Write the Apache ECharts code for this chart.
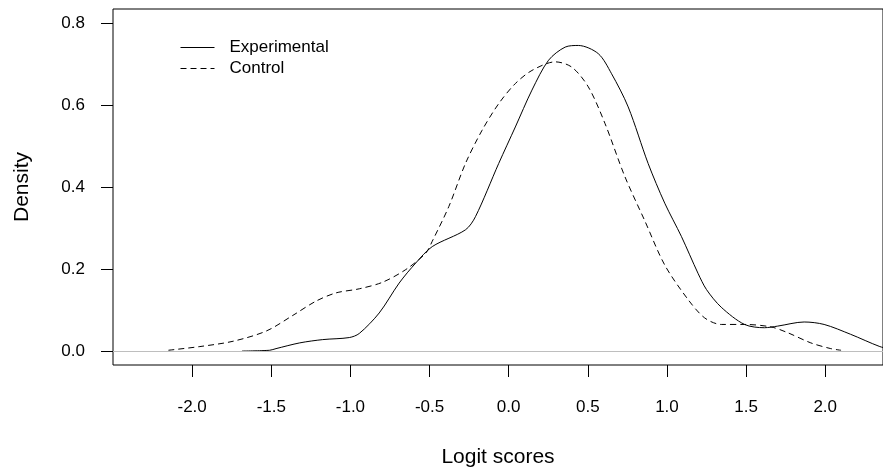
<!DOCTYPE html>
<html>
<head>
<meta charset="utf-8">
<script src="https://cdn.jsdelivr.net/npm/echarts@6/dist/echarts.min.js"></script>
<style>
  html, body { margin: 0; padding: 0; background: #fff; }
  #chart { width: 883px; height: 473px; }
</style>
</head>
<body>
<div id="chart"></div>
<script>
// density curves: [logit score, density]
const experimental = [
  [-1.685, 0.000], [-1.51, 0.002], [-1.47, 0.006], [-1.32, 0.020], [-1.175, 0.028],
  [-1.007, 0.033], [-0.944, 0.043], [-0.818, 0.093], [-0.692, 0.166], [-0.587, 0.215],
  [-0.483, 0.255], [-0.273, 0.296], [-0.21, 0.328], [-0.063, 0.458], [0.042, 0.547],
  [0.147, 0.637], [0.252, 0.710], [0.357, 0.742], [0.44, 0.746], [0.566, 0.726],
  [0.65, 0.677], [0.755, 0.596], [0.881, 0.458], [0.986, 0.361], [1.091, 0.280],
  [1.196, 0.190], [1.25, 0.150], [1.343, 0.107], [1.49, 0.065], [1.616, 0.057],
  [1.70, 0.061], [1.867, 0.071], [1.993, 0.065], [2.16, 0.041], [2.345, 0.011],
  [2.42, 0.004]
];
const control = [
  [-2.15, 0.002], [-1.951, 0.011], [-1.741, 0.024], [-1.531, 0.049], [-1.364, 0.087],
  [-1.217, 0.122], [-1.091, 0.142], [-0.944, 0.152], [-0.797, 0.168], [-0.65, 0.199],
  [-0.524, 0.239], [-0.483, 0.268], [-0.378, 0.353], [-0.273, 0.458], [-0.168, 0.539],
  [-0.063, 0.604], [0.042, 0.653], [0.147, 0.685], [0.294, 0.706], [0.399, 0.693],
  [0.503, 0.645], [0.608, 0.556], [0.734, 0.426], [0.86, 0.318], [0.986, 0.210],
  [1.133, 0.126], [1.238, 0.081], [1.343, 0.065], [1.49, 0.065], [1.657, 0.059],
  [1.762, 0.045], [1.909, 0.020], [2.035, 0.006], [2.10, 0.002]
];
const xTicks = [-2, -1.5, -1, -0.5, 0, 0.5, 1, 1.5, 2];
const yTicks = [0, 0.2, 0.4, 0.6, 0.8];

const font = 'Liberation Sans, Arial, sans-serif';
const chart = echarts.init(document.getElementById('chart'));
chart.setOption({
  animation: false,
  backgroundColor: '#fff',
  textStyle: { fontFamily: font, color: '#000' },
  grid: {
    left: 113, right: -3, top: 9, bottom: 107,
    show: true, borderColor: '#000', borderWidth: 1, backgroundColor: 'transparent'
  },
  legend: {
    orient: 'vertical',
    left: 175, top: 34,
    itemWidth: 34, itemHeight: 10, itemGap: 4,
    itemStyle: { opacity: 0 },
    lineStyle: { width: 1 },
    textStyle: { fontFamily: font, fontSize: 17, color: '#000', padding: [0, 0, 0, 10], lineHeight: 17 },
    data: ['Experimental', 'Control']
  },
  xAxis: {
    type: 'value',
    min: -2.5, max: 2.365,
    name: 'Logit scores',
    nameLocation: 'middle',
    nameGap: 82,
    nameTextStyle: { fontFamily: font, fontSize: 21, color: '#000' },
    axisLine: { show: false, onZero: false },
    axisTick: { show: true, length: 12, customValues: xTicks, lineStyle: { color: '#000' } },
    axisLabel: {
      customValues: xTicks, margin: 34, fontSize: 17, color: '#000', fontFamily: font,
      formatter: v => v.toFixed(1)
    },
    splitLine: { show: false }
  },
  yAxis: {
    type: 'value',
    min: -0.034, max: 0.835,
    name: 'Density',
    nameLocation: 'middle',
    nameRotate: 90,
    nameGap: 80,
    nameTextStyle: { fontFamily: font, fontSize: 21, color: '#000' },
    axisLine: { show: false, onZero: false },
    axisTick: { show: true, length: 12, customValues: yTicks, lineStyle: { color: '#000' } },
    axisLabel: {
      customValues: yTicks, margin: 28, fontSize: 17, color: '#000', fontFamily: font,
      formatter: v => v.toFixed(1)
    },
    splitLine: { show: false }
  },
  series: [
    {
      name: 'Experimental',
      type: 'line',
      data: experimental,
      smooth: 0.3,
      symbol: 'none',
      clip: true,
      lineStyle: { color: '#000', width: 1 },
      itemStyle: { color: '#000' },
      markLine: {
        silent: true,
        symbol: 'none',
        label: { show: false },
        lineStyle: { color: '#bebebe', type: 'solid', width: 1 },
        data: [{ yAxis: 0 }]
      }
    },
    {
      name: 'Control',
      type: 'line',
      data: control,
      smooth: 0.3,
      symbol: 'none',
      clip: true,
      lineStyle: { color: '#000', width: 1, type: [6, 4] },
      itemStyle: { color: '#000' }
    }
  ]
});
</script>
</body>
</html>
